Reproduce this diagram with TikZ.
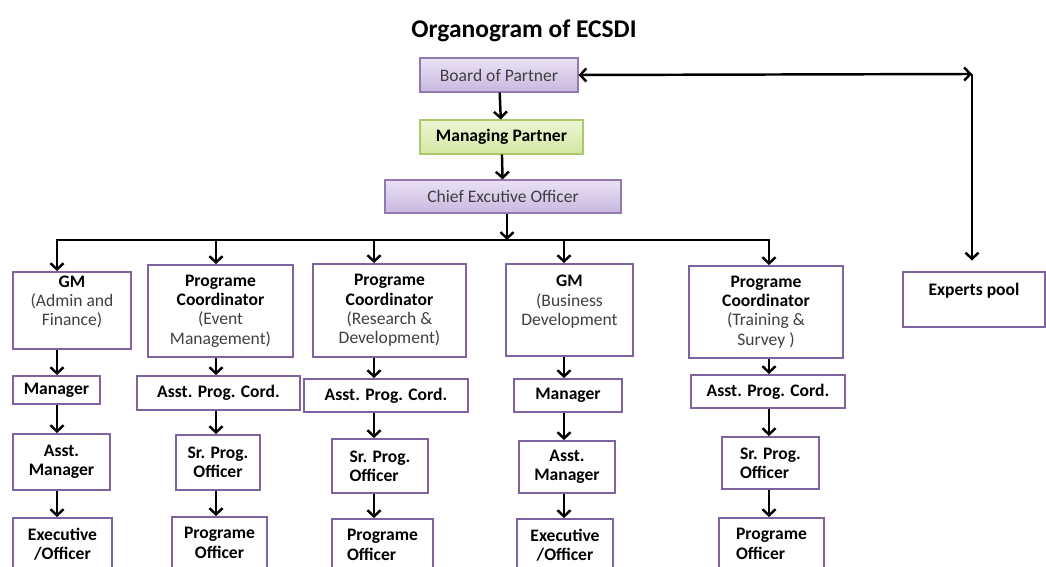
\documentclass[tikz,border=0pt]{standalone}
\usepackage{fontspec}
\setmainfont{Carlito}
\usetikzlibrary{arrows.meta,shadows}

\definecolor{boxline}{HTML}{7F63A1}
\definecolor{lavtop}{HTML}{EAE2F4}
\definecolor{lavbot}{HTML}{C9B7E0}
\definecolor{grntop}{HTML}{EEF6D4}
\definecolor{grnbot}{HTML}{D2E7A0}
\definecolor{grnline}{HTML}{A9C96B}
\definecolor{txtgray}{HTML}{404040}

\newcommand{\sub}[1]{{\mdseries\color{txtgray}#1}}

\begin{document}
\begin{tikzpicture}[x=0.02cm, y=-0.02cm,
    every node/.style={font=\fontsize{10}{11}\selectfont, inner sep=0pt, align=center},
    post/.style={draw=boxline, line width=1.1pt, fill=white, font=\fontsize{10}{11}\selectfont\bfseries},
    head/.style={draw=boxline!85, line width=0.6pt, top color=lavtop, bottom color=lavbot, text=txtgray,
        drop shadow={shadow xshift=0.8pt, shadow yshift=-0.8pt, opacity=0.25}},
    mgmt/.style={draw=grnline, line width=0.6pt, top color=grntop, bottom color=grnbot,
        font=\fontsize{10}{11}\selectfont\bfseries,
        drop shadow={shadow xshift=0.8pt, shadow yshift=-0.8pt, opacity=0.25}},
    link/.style={line width=1.4pt},
    arr/.style={link, -{Straight Barb[length=3.5pt,width=7.5pt]}},
    both/.style={link, {Straight Barb[length=3.5pt,width=7.5pt]}-{Straight Barb[length=3.5pt,width=7.5pt]}}]

\useasboundingbox (0,0) rectangle (1046,567);
\clip (0,0) rectangle (1046,567);

\node[font=\fontsize{14.5}{17}\selectfont\bfseries] (title) at (524,31) {Organogram of ECSDI};

% top of the chart
\node[head, minimum width=3.16cm, minimum height=0.68cm] (board) at (499,75) {Board of Partner};
\node[mgmt, minimum width=3.26cm, minimum height=0.68cm] (mp) at (501.5,137) {Managing Partner};
\node[head, minimum width=4.72cm, minimum height=0.66cm] (ceo) at (503,196.5) {Chief Excutive Officer};

% departments
\node[post, minimum width=2.36cm, minimum height=1.54cm] (gmA) at (72,310.5) {GM\\\sub{(Admin and}\\\sub{Finance)}\\\mbox{}};
\node[post, minimum width=2.90cm, minimum height=1.84cm] (pcE) at (220.5,311) {Programe\\Coordinator\\\sub{(Event}\\\sub{Management)}};
\node[post, minimum width=3.06cm, minimum height=1.86cm] (pcR) at (389.5,310.5) {Programe\\Coordinator\\\sub{(Research \&}\\\sub{Development)}};
\node[post, minimum width=2.54cm, minimum height=1.84cm] (gmB) at (569.5,310) {GM\\\sub{(Business}\\\sub{Development}\\\mbox{}};
\node[post, minimum width=3.08cm, minimum height=1.84cm] (pcT) at (766,312) {Programe\\Coordinator\\\sub{(Training \&}\\\sub{Survey )}};
\node[post, minimum width=2.84cm, minimum height=1.10cm] (exp) at (974,299.5) {Experts pool\\\mbox{}};

% second row
\node[post, minimum width=1.74cm, minimum height=0.56cm] (mgrA) at (56.5,390) {Manager};
\node[post, minimum width=3.26cm, minimum height=0.68cm] (apcE) at (218.5,393) {Asst. Prog. Cord.};
\node[post, minimum width=3.28cm, minimum height=0.66cm] (apcR) at (386,395.5) {Asst. Prog. Cord.};
\node[post, minimum width=2.16cm, minimum height=0.66cm] (mgrB) at (568,395.5) {Manager};
\node[post, minimum width=3.08cm, minimum height=0.66cm] (apcT) at (768,391.5) {Asst. Prog. Cord.};

% third row
\node[post, minimum width=1.94cm, minimum height=1.12cm] (amA) at (61.5,462) {Asst.\\Manager};
\node[post, minimum width=1.68cm, minimum height=1.10cm] (spoE) at (218,462.5) {Sr. Prog.\\Officer};
\node[post, minimum width=1.92cm, minimum height=1.08cm, align=left] (spoR) at (380,466) {Sr. Prog.\\Officer};
\node[post, minimum width=1.92cm, minimum height=1.04cm] (amB) at (567,467) {Asst.\\Manager};
\node[post, minimum width=1.94cm, minimum height=1.04cm, align=left] (spoT) at (770.5,463) {Sr. Prog.\\Officer};

% fourth row
\node[post, minimum width=1.98cm, minimum height=1.04cm] (exA) at (62.5,544) {Executive\\/Officer};
\node[post, minimum width=1.90cm, minimum height=1.04cm] (poE) at (219.5,543) {Programe\\Officer};
\node[post, minimum width=2.02cm, minimum height=1.04cm, align=left] (poR) at (382.5,545) {Programe\\Officer};
\node[post, minimum width=1.92cm, minimum height=1.04cm] (exB) at (565,545) {Executive\\/Officer};
\node[post, minimum width=2.10cm, minimum height=1.04cm, align=left] (poT) at (771.5,544) {Programe\\Officer};

% columns and bus
\coordinate (bus) at (507,240);
\coordinate (c1) at (57,0);
\coordinate (c2) at (216,0);
\coordinate (c3) at (374,0);
\coordinate (c4) at (564,0);
\coordinate (c5) at (769,0);
\coordinate (corner) at (972,74);

\draw[arr] (board) -- (mp);
\draw[arr] (mp) -- (ceo);
\draw[arr] (ceo.south -| bus) -- (bus);
\draw[arr] (c2 |- bus) -- (c1 |- bus) -- (c1 |- gmA.north);
\draw[arr] (c4 |- bus) -- (c5 |- bus) -- (c5 |- pcT.north);
\draw[link] (c2 |- bus) -- (c4 |- bus);
\draw[arr] (c2 |- bus) -- (c2 |- pcE.north);
\draw[arr] (c3 |- bus) -- (c3 |- pcR.north);
\draw[arr] (c4 |- bus) -- (c4 |- gmB.north);
\draw[both] (board.east) -- (corner);
\draw[arr, shorten >=6pt] (corner) -- (corner |- exp.north);

\draw[arr] (c1 |- gmA.south) -- (c1 |- mgrA.north);
\draw[arr] (c1 |- mgrA.south) -- (c1 |- amA.north);
\draw[arr] (c1 |- amA.south) -- (c1 |- exA.north);
\draw[arr] (c2 |- pcE.south) -- (c2 |- apcE.north);
\draw[arr] (c2 |- apcE.south) -- (c2 |- spoE.north);
\draw[arr] (c2 |- spoE.south) -- (c2 |- poE.north);
\draw[arr] (c3 |- pcR.south) -- (c3 |- apcR.north);
\draw[arr] (c3 |- apcR.south) -- (c3 |- spoR.north);
\draw[arr] (c3 |- spoR.south) -- (c3 |- poR.north);
\draw[arr] (c4 |- gmB.south) -- (c4 |- mgrB.north);
\draw[arr] (c4 |- mgrB.south) -- (c4 |- amB.north);
\draw[arr] (c4 |- amB.south) -- (c4 |- exB.north);
\draw[arr] (c5 |- pcT.south) -- (c5 |- apcT.north);
\draw[arr] (c5 |- apcT.south) -- (c5 |- spoT.north);
\draw[arr] (c5 |- spoT.south) -- (c5 |- poT.north);
\end{tikzpicture}
\end{document}
